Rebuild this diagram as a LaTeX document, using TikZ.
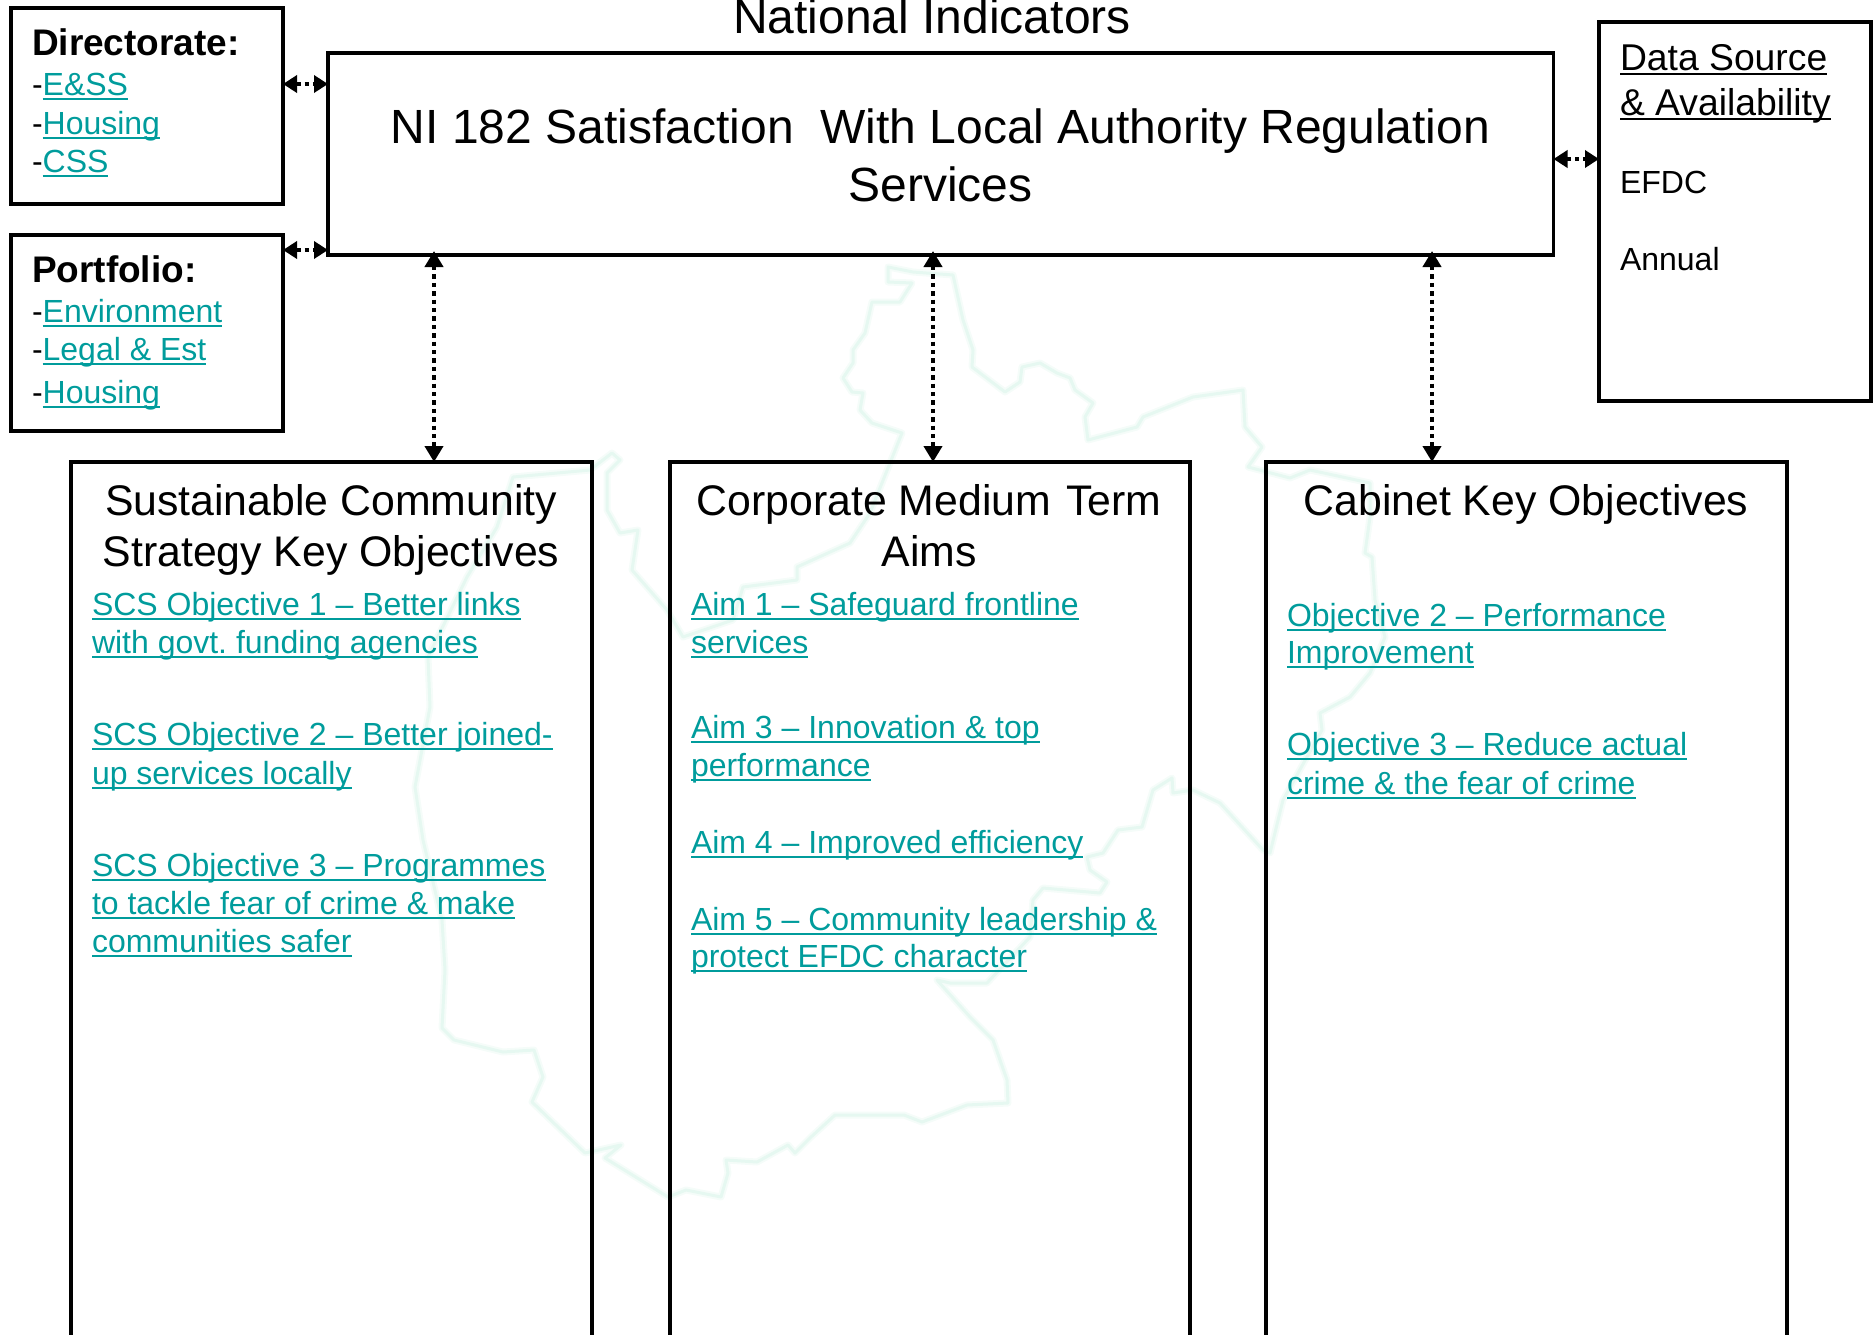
\documentclass[tikz,border=0pt]{standalone}
\usepackage{fontspec}
\setmainfont{Liberation Sans}
\usetikzlibrary{arrows.meta}
\definecolor{linkteal}{HTML}{009C9C}
\definecolor{mapgreen}{HTML}{E6F8F1}
\definecolor{mapblur}{HTML}{F5FCF9}
\frenchspacing
% underlined line of text: rule at fixed distance under the baseline
\newcommand\ulin[1]{\setbox0=\hbox{#1}\rlap{\raisebox{-5.4pt}{\rule{\wd0}{2.6pt}}}\box0 }
\newcommand\lnk[1]{{\color{linkteal}\ulin{#1}}}
% blocks whose baseline is that of the first line
\newcommand\leftblock[2]{\vtop{\baselineskip=#1\relax\halign{##\hfil\cr #2\cr}}}
\newcommand\midblock[2]{\vtop{\baselineskip=#1\relax\halign{\hfil##\hfil\cr #2\cr}}}
\tikzset{
  boxed/.style={draw=black,line width=3.9pt,fill=none,anchor=north west,inner sep=0pt,outer sep=0pt,minimum width=#1},
  heading/.style={inner sep=0pt,outer sep=0pt,anchor=base,text=black,font=\fontsize{42.8}{50}\selectfont},
  bigtext/.style={inner sep=0pt,outer sep=0pt,anchor=base,text=black,font=\fontsize{48}{58}\selectfont},
  linktext/.style={inner sep=0pt,outer sep=0pt,anchor=base west,font=\fontsize{32}{38}\selectfont},
  sidetext/.style={inner sep=0pt,outer sep=0pt,anchor=base west,font=\fontsize{37.3}{45}\selectfont},
  biarrow/.style={line width=4.4pt,dash pattern=on 4.4pt off 4pt,
    {Triangle[length=16pt,width=18pt]}-{Triangle[length=16pt,width=18pt]}},
  shortarrow/.style={line width=4.4pt,dash pattern=on 4.4pt off 4pt,
    {Triangle[length=14pt,width=17pt]}-{Triangle[length=14pt,width=17pt]}},
  mapoutline/.style={line join=round}
}
\newcommand\districtpath{(888,267) -- (888,282) -- (912,283) -- (900,302) -- (872,302) -- (865,333) -- (853,350) -- (853,363) -- (843,378) -- (852,392) -- (863,393) -- (860,410) -- (872,423) -- (902,433) -- (890,463) -- (870,513) -- (850,543) -- (797,567) -- (797,580) -- (743,587) -- (733,620) -- (683,637) -- (667,610) -- (632,570) -- (638,530) -- (620,533) -- (607,510) -- (607,473) -- (620,460) -- (612,453) -- (590,470) -- (513,477) -- (497,527) -- (467,577) -- (428,657) -- (430,707) -- (415,787) -- (423,840) -- (442,920) -- (445,970) -- (442,1028) -- (454,1040) -- (503,1052) -- (534,1050) -- (543,1077) -- (532,1102) -- (585,1153) -- (621,1145) -- (605,1158) -- (668,1197) -- (686,1190) -- (721,1197) -- (728,1173) -- (726,1160) -- (757,1162) -- (788,1145) -- (795,1153) -- (811,1137) -- (835,1115) -- (904,1115) -- (922,1122) -- (967,1105) -- (1008,1103) -- (1007,1080) -- (993,1040) -- (970,1017) -- (937,980) -- (950,983) -- (987,983) -- (1030,937) -- (1033,900) -- (1043,888) -- (1100,893) -- (1107,882) -- (1090,870) -- (1087,857) -- (1103,853) -- (1118,830) -- (1142,827) -- (1153,790) -- (1172,778) -- (1173,793) -- (1193,790) -- (1220,803) -- (1263,850) -- (1270,853) -- (1283,800) -- (1322,730) -- (1320,713) -- (1350,697) -- (1370,673) -- (1385,637) -- (1375,600) -- (1372,557) -- (1365,553) -- (1370,517) -- (1370,483) -- (1310,470) -- (1290,478) -- (1248,467) -- (1262,447) -- (1245,427) -- (1243,390) -- (1193,397) -- (1143,417) -- (1137,427) -- (1088,440) -- (1085,417) -- (1093,403) -- (1075,390) -- (1070,378) -- (1057,373) -- (1040,363) -- (1022,367) -- (1020,382) -- (1005,392) -- (972,367) -- (973,350) -- (963,320) -- (953,275) -- (913,272) -- cycle}
\begin{document}
\begin{tikzpicture}[x=1pt,y=-1pt]
\useasboundingbox (0,0) rectangle (1874,1334);
\clip (0,0) rectangle (1874,1334);
% pale district map behind everything
\draw[mapoutline,draw=mapblur,line width=7pt] \districtpath;
\draw[mapoutline,draw=mapgreen,line width=3pt] \districtpath;
% boxes
\node[boxed=272pt,minimum height=196pt] (dir) at (11,8) {};
\node[boxed=272pt,minimum height=196pt] (port) at (11,235) {};
\node[boxed=1225.5pt,minimum height=202pt] (ni) at (328,53) {};
\node[boxed=272pt,minimum height=379pt] (data) at (1599,22) {};
\node[boxed=521pt,minimum height=940pt] (scs) at (71,462) {};
\node[boxed=520pt,minimum height=940pt] (corp) at (670,462) {};
\node[boxed=521pt,minimum height=940pt] (cab) at (1266,462) {};
% text
\node[bigtext] (title) at (932,33.5) {National Indicators};
\node[bigtext] (nitext) at (940.5,143) {\midblock{58pt}{NI 182 Satisfaction\ \ With Local Authority Regulation\cr Services}};
\node[linktext,font=\fontsize{37}{44}\bfseries\selectfont] (dirhead) at (32,55) {Directorate:};
\node[linktext] (dir1) at (32,95) {-\lnk{E\&SS}};
\node[linktext] (dir2) at (32,134) {-\lnk{Housing}};
\node[linktext] (dir3) at (32,172) {-\lnk{CSS}};
\node[linktext,font=\fontsize{37}{44}\bfseries\selectfont] (porthead) at (32,282) {Portfolio:};
\node[linktext] (port1) at (32,322) {-\lnk{Environment}};
\node[linktext] (port2) at (32,360) {-\lnk{Legal \& Est}};
\node[linktext] (port3) at (32,403) {-\lnk{Housing}};
\node[sidetext] (datahead) at (1620,70) {\leftblock{45pt}{\ulin{Data Source}\cr \ulin{\& Availability}}};
\node[linktext] (efdc) at (1620,193) {EFDC};
\node[linktext] (annual) at (1620,270) {Annual};
\node[heading] (scshead) at (331,515) {\midblock{51pt}{Sustainable Community\cr Strategy Key Objectives}};
\node[heading] (corphead) at (929,515) {\midblock{51pt}{Corporate Medium\kern3pt\ Term\cr Aims}};
\node[heading] (cabhead) at (1526,515) {Cabinet Key Objectives};
\node[linktext] (scs1) at (92,615) {\leftblock{38pt}{\lnk{SCS Objective 1 – Better links}\cr \lnk{with govt. funding agencies}}};
\node[linktext] (scs2) at (92,745) {\leftblock{39pt}{\lnk{SCS Objective 2 – Better joined-}\cr \lnk{up services locally}}};
\node[linktext] (scs3) at (92,876) {\leftblock{38pt}{\lnk{SCS Objective 3 – Programmes}\cr \lnk{to tackle fear of crime \& make}\cr \lnk{communities safer}}};
\node[linktext] (aim1) at (691,615) {\leftblock{38pt}{\lnk{Aim 1 – Safeguard frontline}\cr \lnk{services}}};
\node[linktext] (aim3) at (691,738) {\leftblock{38pt}{\lnk{Aim 3 – Innovation \& top}\cr \lnk{performance}}};
\node[linktext] (aim4) at (691,853) {\lnk{Aim 4 – Improved efficiency}};
\node[linktext] (aim5) at (691,930) {\leftblock{37pt}{\lnk{Aim 5 – Community leadership \&}\cr \lnk{protect EFDC character}}};
\node[linktext] (obj2) at (1287,626) {\leftblock{37pt}{\lnk{Objective 2 – Performance}\cr \lnk{Improvement}}};
\node[linktext] (obj3) at (1287,755) {\leftblock{39pt}{\lnk{Objective 3 – Reduce actual}\cr \lnk{crime \& the fear of crime}}};
% connectors
\coordinate (xa) at (434,0);
\coordinate (xb) at (933,0);
\coordinate (xc) at (1432,0);
\coordinate (ya) at (0,84);
\coordinate (yb) at (0,250);
\coordinate (yc) at (0,159);
\draw[shortarrow] (dir.east |- ya) -- (ni.west |- ya);
\draw[shortarrow] (port.east |- yb) -- (ni.west |- yb);
\draw[shortarrow] (ni.east |- yc) -- (data.west |- yc);
\draw[biarrow,shorten <=-4pt] (xa |- ni.south) -- (xa |- scs.north);
\draw[biarrow,shorten <=-4pt] (xb |- ni.south) -- (xb |- corp.north);
\draw[biarrow,shorten <=-4pt] (xc |- ni.south) -- (xc |- cab.north);
\end{tikzpicture}
\end{document}
